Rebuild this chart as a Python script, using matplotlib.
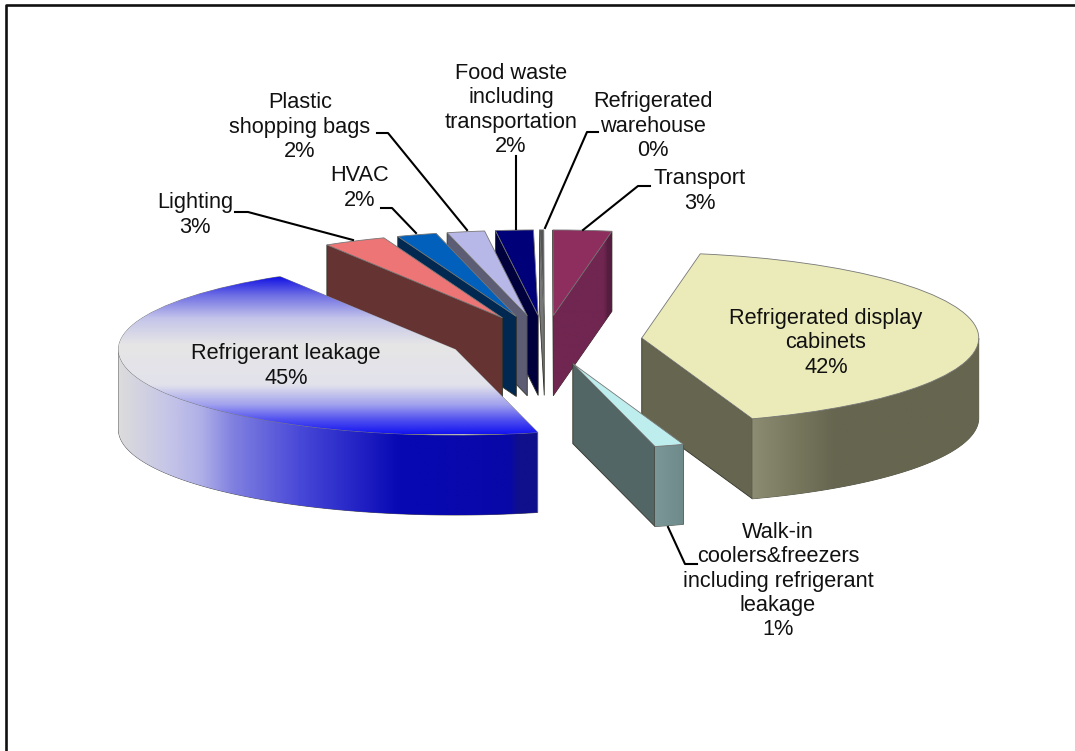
import numpy as np
import matplotlib
matplotlib.use("Agg")
import matplotlib.pyplot as plt
from matplotlib.colors import LinearSegmentedColormap
from matplotlib.lines import Line2D
from matplotlib.patches import Polygon

plt.rcParams['font.family'] = ['Liberation Sans', 'DejaVu Sans']

# ---- data (clockwise from the Lighting slice) ----
categories = ["Lighting", "HVAC", "Plastic\nshopping bags",
              "Food waste\nincluding\ntransportation",
              "Refrigerated\nwarehouse", "Transport",
              "Refrigerated display\ncabinets",
              "Walk-in\ncoolers&freezers\nincluding refrigerant\nleakage",
              "Refrigerant leakage"]
values = [3.0, 1.9, 1.8, 1.8, 0.2, 2.8, 41.9, 1.4, 45.2]

# ---- styling ----
top_colors = ['#EE7575', '#0060BB', '#B8B8E8', '#000078', '#555555',
              '#8E2E5E', '#EBEBB9', '#BEEDED', '#E6E6E6']
wall_colors = ['#663333', '#002850', '#5C5C74', '#00003C', '#777777',
               '#702650', '#666650', '#526666', '#2020C0']
z_orders = [6, 5, 4, 3, 2, 1, 7, 8, 9]
label_px = [(195, 215), (360, 188), (300, 127), (511, 110), (653, 126),
            (700, 191), (826, 343), (778, 581), (286, 366)]
leaders_px = [[(235, 212), (248, 212), (353, 240)],
              [(381, 208), (392, 208), (416, 233)],
              [(377, 133), (388, 133), (467, 230)],
              [(516, 156), (516, 229)],
              [(598, 132), (587, 132), (545, 228)],
              [(650, 186), (638, 186), (583, 230)],
              [(668, 527), (685, 564), (697, 564)]]

W, H = 1075, 751
CX, CY, A, B = 545.0, 340.0, 337.0, 85.5   # pie centre and ellipse radii, px
DEPTH = 80.0 / B
EXPLODE = 0.288
START = 121.4


def fx(px):
    return (px - CX) / A


def fy(py):
    return (CY - py) / B


def fig_xy(p):
    return p[0] / W, 1 - p[1] / H


fig = plt.figure(figsize=(W / 100, H / 100), dpi=100, facecolor='white')
ax = fig.add_axes([0, 0, 1, 1])
wedges, _ = ax.pie(values, explode=[EXPLODE] * len(values), startangle=START,
                   counterclock=False, radius=1, center=(0, 0), normalize=True,
                   colors=top_colors,
                   wedgeprops=dict(edgecolor='#777777', linewidth=0.6))
ax.set_aspect('auto')


def grad_fill(clip, stops, x0, x1, y0, y1, vertical, z):
    pos = [s[0] for s in stops]
    span_lo, span_hi = pos[0], pos[-1]
    cmap = LinearSegmentedColormap.from_list(
        'g', [((p - span_lo) / (span_hi - span_lo), c) for p, c in stops])
    g = np.linspace(0, 1, 256)
    arr = g[:, None] if vertical else g[None, :]
    im = ax.imshow(arr, cmap=cmap, extent=[x0, x1, y0, y1], origin='upper',
                   aspect='auto', zorder=z, interpolation='bilinear')
    im.set_clip_path(clip)


def radial_wall(w, theta):
    cx, cy = w.center
    t = np.radians(theta)
    ox, oy = cx + w.r * np.cos(t), cy + w.r * np.sin(t)
    return [(cx, cy), (ox, oy), (ox, oy - DEPTH), (cx, cy - DEPTH)]


def outer_wall(w):
    lo, hi = w.theta1, w.theta2
    ts = np.linspace(lo, hi, 400)
    ts = ts[np.sin(np.radians(ts)) < 0]
    if len(ts) < 2:
        return None
    cx, cy = w.center
    xs = cx + w.r * np.cos(np.radians(ts))
    ys = cy + w.r * np.sin(np.radians(ts))
    return np.column_stack([np.r_[xs, xs[::-1]],
                            np.r_[ys, ys[::-1] - DEPTH]])


outer_stops = {
    8: [(118, '#DCDCDC'), (170, '#C4C4E8'), (200, '#B0B0E8'), (233, '#8080E0'),
        (300, '#4848D8'), (350, '#2828C8'), (400, '#0808B4'), (510, '#0808A8'),
        (520, '#10108C'), (537, '#10108C')],
    6: [(752, '#8C8C72'), (790, '#7A7A60'), (835, '#666650'), (979, '#666650')],
    7: [(653, '#7C9898'), (683, '#6E8A8A')],
}

for i, w in enumerate(wedges):
    z = z_orders[i]
    w.set_zorder(z + 0.5)
    # radial faces that look towards the viewer
    for theta, normal in ((w.theta1, w.theta1 - 90), (w.theta2, w.theta2 + 90)):
        if np.sin(np.radians(normal)) < -1e-6:
            poly = Polygon(radial_wall(w, theta), closed=True, zorder=z,
                           facecolor=wall_colors[i], edgecolor='#33332a',
                           linewidth=0.6)
            ax.add_patch(poly)
            if categories[i] == 'Transport':
                pts = np.array(radial_wall(w, theta))
                grad_fill(poly, [(553, '#702650'), (604, '#702650'),
                                 (608, '#551D40'), (613, '#551D40')],
                          fx(553), fx(613), pts[:, 1].min(), pts[:, 1].max(),
                          False, z + 0.1)
    # curved outer face
    pts = outer_wall(w)
    if pts is not None:
        poly = Polygon(pts, closed=True, zorder=z + 0.05,
                       facecolor=wall_colors[i], edgecolor='#55554a',
                       linewidth=0.6)
        ax.add_patch(poly)
        if i in outer_stops:
            st = outer_stops[i]
            grad_fill(poly, st, fx(st[0][0]), fx(st[-1][0]),
                      pts[:, 1].min(), pts[:, 1].max(), False, z + 0.1)

# gradient on the top face of the largest slice
leak = wedges[-1]
grad_fill(leak, [(277, '#1414E4'), (295, '#6E6EE4'), (318, '#C4C4EA'),
                 (345, '#E6E6E6'), (385, '#E2E2EC'), (405, '#A0A0EE'),
                 (420, '#5050F0'), (434, '#1414F0')],
          fx(100), fx(560), fy(434), fy(277), True, leak.get_zorder() + 0.1)

ax.set_xlim(fx(0), fx(W))
ax.set_ylim(fy(H), fy(0))
ax.set_axis_off()

# leader lines, frame and labels sit in figure coordinates
for pts in leaders_px:
    xy = np.array([fig_xy(p) for p in pts])
    fig.add_artist(Line2D(xy[:, 0], xy[:, 1], color='black', linewidth=1.5,
                          zorder=30))

frame = np.array([fig_xy(p) for p in [(6, H), (6, 5), (W, 5)]])
fig.add_artist(Line2D(frame[:, 0], frame[:, 1], color='#111111', linewidth=1.9,
                      zorder=30))

for cat, val, pos in zip(categories, values, label_px):
    x, y = fig_xy(pos)
    fig.text(x, y, f"{cat}\n{round(val)}%", ha='center', va='center',
             multialignment='center', fontsize=15.7, color='#111111',
             linespacing=1.2, zorder=40)

fig.savefig('out.png', dpi=100, facecolor='white')
